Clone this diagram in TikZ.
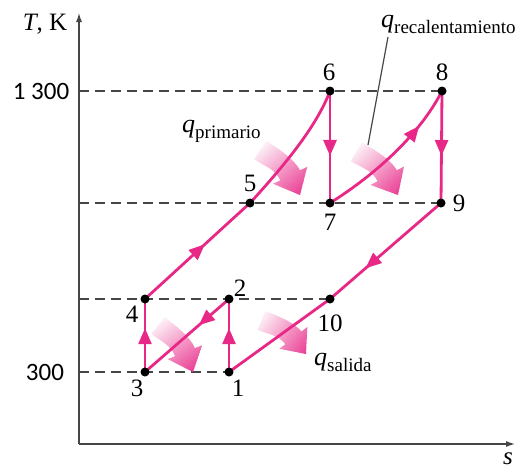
\documentclass[tikz,border=0pt]{standalone}
\usepackage{fontspec}
\setmainfont{Liberation Serif}
\newfontfamily\labelsans{Carlito}
\usetikzlibrary{arrows.meta,decorations.markings}
\definecolor{qpink}{RGB}{232,40,135}
\definecolor{axisgray}{RGB}{70,70,70}
\newcommand\fatarrow[4]{%
\begin{scope}[shift={(#1,-#2)}, rotate=#3, scale=#4]
\clip (-57.15,-10.63) .. controls (-44.6,-7.26) and (-36.66,-1.57) .. (-24.1,-4.94) -- (-26.17,-12.66) -- (0,0) -- (-16.33,24.04) -- (-18.4,16.32) .. controls (-30.96,19.69) and (-50.3,14.0) .. (-62.85,10.63) -- cycle;
\foreach \i in {0,...,33}{\pgfmathsetmacro\shadeval{2+2.7*\i}\fill[qpink!\shadeval] ({-66+2*\i},-32) rectangle ({-63.7+2*\i},32);}
\end{scope}}
\newcommand\qsub[1]{{\fontsize{26}{28}\selectfont\textit{q}}\raisebox{-6pt}{\fontsize{19}{19}\selectfont #1}}
\begin{document}
\begin{tikzpicture}[x=1pt,y=1pt,font=\fontsize{25}{28}\selectfont,
  dashln/.style={axisgray, line width=1.5pt, dash pattern=on 10pt off 6pt},
  cyc/.style={qpink, line width=2.8pt},
  midarrow/.style={postaction={decorate}, decoration={markings, mark=at position #1 with {\arrow{Triangle[length=16pt,width=13pt]}}}},
  axisln/.style={axisgray, line width=2pt},
  numlbl/.style={inner sep=0pt},
  sanslbl/.style={inner sep=0pt, font=\labelsans\fontsize{25}{28}\selectfont}]
\useasboundingbox (0,0) rectangle (522,-472);
% points
\coordinate (p1) at (229,-372);
\coordinate (p2) at (229,-299);
\coordinate (p3) at (145,-372);
\coordinate (p4) at (145,-299);
\coordinate (p5) at (250,-203);
\coordinate (p6) at (330,-91);
\coordinate (p7) at (330,-203);
\coordinate (p8) at (442,-91);
\coordinate (p9) at (441,-203);
\coordinate (p10) at (330,-299);
% axis
\coordinate (origin) at (79,-444);
\coordinate (ytop) at (79,-12);
\coordinate (xend) at (516,-444);
\coordinate (y1300) at (79,-91);
\coordinate (y9) at (79,-203);
\coordinate (y10) at (79,-299);
\coordinate (y300) at (79,-372);
% dashed levels
\draw[dashln] (y1300) -- (p8);
\draw[dashln] (y9) -- (p9);
\draw[dashln] (y10) -- (p10);
\draw[dashln] (y300) -- (p1);
% axes
\draw[axisln, -{Latex[length=10pt,width=6pt]}] (origin) -- (ytop);
\draw[axisln, -{Latex[length=10pt,width=6pt]}] (origin) -- (xend);
% heat arrows
\fatarrow{300}{195}{-48.5}{1.0}
\fatarrow{398}{195}{-46}{1.0}
\fatarrow{306}{354}{-37}{0.93}
\fatarrow{193}{372}{-53}{0.97}
% cycle
\draw[cyc, midarrow=0.57] (p4) -- (p5);
\draw[cyc] (p5) .. controls (282,-168) and (316,-128) .. (p6);
\draw[cyc, midarrow=0.58] (p6) -- (p7);
\draw[cyc, midarrow=0.74] (p7) .. controls (370,-178) and (418,-138) .. (p8);
\draw[cyc, midarrow=0.58] (p8) -- (p9);
\draw[cyc, midarrow=0.68] (p9) -- (p10);
\draw[cyc] (p10) -- (p1);
\draw[cyc, midarrow=0.6] (p1) -- (p2);
\draw[cyc, midarrow=0.36] (p2) -- (p3);
\draw[cyc, midarrow=0.6] (p3) -- (p4);
% dots
\foreach \p in {p1,p2,p3,p4,p5,p6,p7,p8,p9,p10} \fill (\p) circle (4.5);
% leader
\coordinate (leadtop) at (388,-37);
\coordinate (leadbot) at (368,-145);
\draw[axisgray, line width=1.2pt] (leadtop) -- (leadbot);
% labels
\node (lT) at (45,-24) {\textit{T}, K};
\node[sanslbl] (l1300) at (41,-91) {1 300};
\node[sanslbl] (l300) at (45,-372) {300};
\node[numlbl] (ls) at (508,-459) {\textit{s}};
\node[numlbl] (n1) at (238,-388) {1};
\node[numlbl] (n2) at (240,-288) {2};
\node[numlbl] (n3) at (137,-388) {3};
\node[numlbl] (n4) at (132,-314) {4};
\node[numlbl] (n5) at (250,-183) {5};
\node[numlbl] (n6) at (329,-72) {6};
\node[numlbl] (n7) at (330,-222) {7};
\node[numlbl] (n8) at (442,-72) {8};
\node[numlbl] (n9) at (459,-203) {9};
\node[numlbl] (n10) at (330,-323) {10};
\node[inner sep=0pt, anchor=base west] (qprim) at (182,-132) {\qsub{primario}};
\node[inner sep=0pt, anchor=base west] (qrec) at (381,-27) {\qsub{recalentamiento}};
\node[inner sep=0pt, anchor=base west] (qsal) at (314,-365) {\qsub{salida}};
\end{tikzpicture}
\end{document}
